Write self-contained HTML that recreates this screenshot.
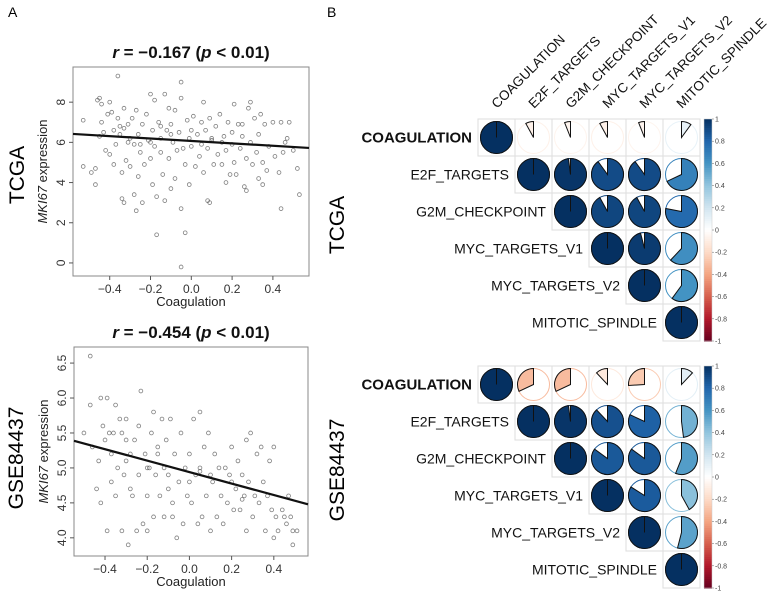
<!DOCTYPE html>
<html><head><meta charset="utf-8">
<style>
html,body{margin:0;padding:0;background:#fff;}
svg{display:block;font-family:"Liberation Sans",sans-serif;}
</style></head>
<body>
<svg id="fig" width="770" height="594" viewBox="0 0 770 594">
<text x="8" y="17" font-size="14">A</text>
<text x="327" y="17" font-size="14">B</text>
<text transform="translate(24,175) rotate(-90)" text-anchor="middle" font-size="21">TCGA</text>
<text transform="translate(23,458) rotate(-90)" text-anchor="middle" font-size="21">GSE84437</text>
<text transform="translate(344,225) rotate(-90)" text-anchor="middle" font-size="21">TCGA</text>
<text transform="translate(344,470) rotate(-90)" text-anchor="middle" font-size="21">GSE84437</text>
<g id="root"></g>
</svg>
<script>
const tcgaX=[-0.53,-0.53,-0.49,-0.47,-0.47,-0.46,-0.45,-0.45,-0.44,-0.44,-0.43,-0.42,-0.41,-0.40,-0.40,-0.39,-0.38,-0.38,-0.37,-0.36,-0.36,-0.35,-0.34,-0.34,-0.33,-0.33,-0.33,-0.32,-0.31,-0.31,-0.30,-0.29,-0.28,-0.28,-0.27,-0.27,-0.26,-0.26,-0.25,-0.24,-0.24,-0.23,-0.22,-0.21,-0.20,-0.20,-0.19,-0.19,-0.18,-0.18,-0.17,-0.17,-0.16,-0.15,-0.15,-0.14,-0.13,-0.13,-0.12,-0.11,-0.11,-0.10,-0.10,-0.09,-0.08,-0.08,-0.07,-0.06,-0.05,-0.05,-0.05,-0.05,-0.04,-0.03,-0.03,-0.02,-0.01,-0.01,0.00,0.01,0.02,0.03,0.04,0.05,0.06,0.06,0.07,0.08,0.08,0.09,0.09,0.10,0.11,0.12,0.13,0.14,0.15,0.16,0.17,0.17,0.18,0.19,0.20,0.21,0.21,0.22,0.23,0.24,0.25,0.26,0.27,0.27,0.28,0.29,0.29,0.30,0.31,0.32,0.33,0.33,0.34,0.35,0.35,0.36,0.37,0.38,0.40,0.41,0.43,0.44,0.44,0.45,0.46,0.47,0.48,0.50,0.52,0.53,-0.30,-0.20,-0.10,0.00,0.10,0.20,-0.15,0.05,0.15,-0.25,0.25,-0.35];
const tcgaY=[7.1,4.8,4.5,3.9,4.7,8.1,8.2,6.3,7.0,7.9,6.5,5.6,7.4,8.0,5.4,7.5,4.9,6.6,5.9,9.3,7.2,6.8,4.5,3.2,3.0,6.7,7.7,5.1,6.0,6.9,4.8,7.2,3.4,5.9,2.6,7.6,4.3,6.4,5.5,3.0,6.9,4.9,7.4,6.1,8.4,5.2,3.9,6.6,8.1,5.8,3.3,1.4,7.0,5.5,6.2,4.4,8.4,3.1,6.6,7.7,5.2,6.9,3.7,6.0,4.2,7.6,5.6,6.5,9.0,8.2,2.7,-0.2,5.7,4.9,1.5,7.1,6.2,3.9,5.8,7.3,4.8,6.4,5.3,7.0,8.0,4.5,6.6,3.1,5.7,3.0,7.2,6.1,4.9,6.8,5.4,7.4,4.9,6.3,4.0,5.6,7.0,4.4,6.5,7.9,5.0,4.4,6.9,5.7,6.3,3.8,3.6,5.2,7.7,8.0,6.0,4.9,7.2,5.5,4.2,6.4,7.4,3.9,5.0,6.9,4.6,5.8,7.0,5.3,4.5,2.7,7.0,5.5,6.0,6.2,7.0,5.6,4.7,3.4,6.2,6.0,6.4,6.6,6.2,5.9,6.8,5.9,6.0,5.9,6.9,6.4];
const tcgaFit=[6.07,-0.6];
const gseX=[-0.50,-0.47,-0.47,-0.46,-0.44,-0.43,-0.42,-0.42,-0.41,-0.40,-0.39,-0.39,-0.38,-0.37,-0.37,-0.36,-0.35,-0.35,-0.34,-0.33,-0.32,-0.32,-0.31,-0.30,-0.30,-0.29,-0.28,-0.28,-0.27,-0.26,-0.25,-0.24,-0.24,-0.23,-0.22,-0.21,-0.20,-0.20,-0.19,-0.18,-0.17,-0.17,-0.16,-0.15,-0.14,-0.13,-0.12,-0.12,-0.11,-0.10,-0.09,-0.08,-0.08,-0.07,-0.06,-0.05,-0.04,-0.03,-0.02,-0.01,0.00,0.01,0.02,0.03,0.04,0.05,0.05,0.06,0.07,0.08,0.09,0.10,0.11,0.12,0.13,0.14,0.15,0.16,0.17,0.18,0.19,0.20,0.21,0.22,0.23,0.24,0.25,0.26,0.27,0.27,0.28,0.29,0.30,0.31,0.32,0.33,0.34,0.35,0.36,0.37,0.38,0.39,0.40,0.40,0.41,0.42,0.44,0.45,0.46,0.47,0.48,0.49,0.49,0.51,-0.30,-0.20,-0.10,0.00,0.10,0.20,-0.15,0.05,0.25];
const gseY=[5.5,6.6,5.9,5.3,4.7,5.1,6.0,4.5,5.6,5.4,6.0,4.1,5.5,4.8,5.2,5.5,4.6,5.9,5.0,5.7,4.1,5.5,4.9,5.4,5.7,3.9,4.7,5.2,4.6,5.4,4.1,4.9,5.6,6.1,4.2,5.2,4.6,4.1,5.0,5.5,4.3,5.8,4.9,5.3,4.6,5.7,4.3,5.0,5.4,4.7,5.7,4.5,4.3,5.2,4.0,4.8,5.5,4.2,5.0,4.6,5.2,4.5,5.7,4.9,4.2,5.0,5.8,4.3,5.3,4.6,5.5,4.1,4.8,5.2,4.3,5.0,4.6,4.2,5.0,4.5,4.9,5.3,4.4,4.7,5.1,4.4,4.9,4.6,5.4,4.1,4.8,5.5,4.3,4.6,5.2,4.5,5.3,4.8,4.1,4.6,5.1,4.4,4.0,5.3,4.3,4.1,4.4,4.3,4.2,4.6,4.3,3.9,4.1,4.1,5.1,5.0,4.9,4.8,4.9,4.8,5.2,4.95,4.55];
const gseFit=[4.94,-0.82];
const xTicks=[-0.4,-0.2,0.0,0.2,0.4];
const tcgaYTicks=[0,2,4,6,8];
const gseYTicks=[4.0,4.5,5.0,5.5,6.0,6.5];
const geneNames=["COAGULATION","E2F_TARGETS","G2M_CHECKPOINT","MYC_TARGETS_V1","MYC_TARGETS_V2","MITOTIC_SPINDLE"];
const tcgaCorr=[[1,-0.08,-0.06,-0.08,-0.06,0.1],[1,0.98,0.9,0.9,0.68],[1,0.92,0.92,0.78],[1,0.96,0.62],[1,0.6],[1]];
const gseCorr=[[1,-0.32,-0.32,-0.12,-0.26,0.12],[1,0.98,0.88,0.82,0.48],[1,0.85,0.85,0.56],[1,0.84,0.42],[1,0.54],[1]];
const barTicks=[1,0.8,0.6,0.4,0.2,0,-0.2,-0.4,-0.6,-0.8,-1];

const NS="http://www.w3.org/2000/svg";
const root=document.getElementById('root');
function mk(tag,attrs,parent,text){const e=document.createElementNS(NS,tag);for(const k in attrs)e.setAttribute(k,attrs[k]);if(text!==undefined)e.textContent=text;(parent||root).appendChild(e);return e;}

function scatter(cfg){
  const g=mk('g',{});
  
  
  const {x0,x1,y0,y1,dx0,dx1,dy0,dy1}=cfg;
  const sx=v=>x0+(v-dx0)/(dx1-dx0)*(x1-x0);
  const sy=v=>y1-(v-dy0)/(dy1-dy0)*(y1-y0);
  const box=mk('rect',{x:x0,y:y0,width:x1-x0,height:y1-y0,fill:'none',stroke:'#888','stroke-width':1},g);
  
  
  cfg.xs.forEach((xv,i)=>{
    const c=mk('circle',{cx:sx(xv),cy:sy(cfg.ys[i]),r:1.9,fill:'none',stroke:'#555','stroke-opacity':0.75,'stroke-width':0.8},g);
    
    
  });
  const ln=mk('line',{x1:x0,y1:sy(cfg.fit[0]+cfg.fit[1]*dx0),x2:x1,y2:sy(cfg.fit[0]+cfg.fit[1]*dx1),stroke:'#111','stroke-width':2.2},g);
  
  
  xTicks.forEach(t=>{
    mk('line',{x1:sx(t),x2:sx(t),y1:y1,y2:y1+4,stroke:'#555'},g);
    const tl=mk('text',{x:sx(t),y:y1+17,'text-anchor':'middle','font-size':12,fill:'#333'},g,t.toFixed(1).replace('-','\u2212'));
    
    
  });
  cfg.yt.forEach(t=>{
    mk('line',{x1:x0,x2:x0-4,y1:sy(t),y2:sy(t),stroke:'#555'},g);
    const tl=mk('text',{transform:`translate(${x0-8},${sy(t)}) rotate(-90)`,'text-anchor':'middle','font-size':12,fill:'#333'},g,cfg.ytFmt(t));
    
    
  });
  const xt=mk('text',{x:(x0+x1)/2,y:y1+30,'text-anchor':'middle','font-size':13,fill:'#222'},g,'Coagulation');
  
  
  const yt=mk('text',{transform:`translate(${x0-26},${(y0+y1)/2}) rotate(-90)`,'text-anchor':'middle','font-size':13,fill:'#222'},g);
  
  
  mk('tspan',{'font-style':'italic'},yt,'MKI67');
  mk('tspan',{},yt,' expression');
  const tt=mk('text',{x:(x0+x1)/2,y:y0-9,'text-anchor':'middle','font-size':17,'font-weight':'bold',fill:'#111'},g);
  
  
  mk('tspan',{'font-style':'italic'},tt,'r');
  mk('tspan',{},tt,' = \u2212'+cfg.r+' (');
  mk('tspan',{'font-style':'italic'},tt,'p');
  mk('tspan',{},tt,' < 0.01)');
}
scatter({name:'tcga-scatter',x0:73,x1:309,y0:67,y1:276,dx0:-0.58,dx1:0.577,dy0:-0.65,dy1:9.75,xs:tcgaX,ys:tcgaY,fit:tcgaFit,yt:tcgaYTicks,ytFmt:t=>String(t),r:'0.167'});
scatter({name:'gse-scatter',x0:74,x1:308,y0:347,y1:556,dx0:-0.547,dx1:0.562,dy0:3.74,dy1:6.73,xs:gseX,ys:gseY,fit:gseFit,yt:gseYTicks,ytFmt:t=>t.toFixed(1),r:'0.454'});

const stops=['#67001F','#B2182B','#D6604D','#F4A582','#FDDBC7','#FFFFFF','#D1E5F0','#92C5DE','#4393C3','#2166AC','#053061'];
function hex(h){return [1,3,5].map(i=>parseInt(h.substr(i,2),16));}
function col(v){const p=(v+1)/2*10;const i=Math.min(9,Math.floor(p));const f=p-i;const a=hex(stops[i]),b=hex(stops[i+1]);return 'rgb('+a.map((c,k)=>Math.round(c+(b[k]-c)*f)).join(',')+')';}

function corrplot(cfg){
  const g=mk('g',{});
  
  
  const L=cfg.left,T=cfg.top,C=37,R=16;
  cfg.m.forEach((row,i)=>{
    row.forEach((v,k)=>{
      const j=i+k;const x=L+j*C,y=T+i*C,cx=x+C/2,cy=y+C/2;
      mk('rect',{x:x,y:y,width:C,height:C,fill:'#fff',stroke:'#ddd','stroke-width':1},g);
      const c=col(v);
      mk('circle',{cx:cx,cy:cy,r:R,fill:'none',stroke:c,'stroke-width':1},g);
      const a=Math.abs(v);let shape;
      if(a>=0.999){shape=mk('circle',{cx:cx,cy:cy,r:R,fill:c,stroke:'#111','stroke-width':1},g);mk('line',{x1:cx,y1:cy,x2:cx,y2:cy-R,stroke:'#111','stroke-width':1},g);}
      else{const ang=a*2*Math.PI*(v>=0?1:-1);const ex=cx+R*Math.sin(ang),ey=cy-R*Math.cos(ang);
        const large=a>0.5?1:0,sweep=v>=0?1:0;
        shape=mk('path',{d:`M${cx},${cy} L${cx},${cy-R} A${R},${R} 0 ${large} ${sweep} ${ex},${ey} Z`,fill:c,stroke:'#111','stroke-width':1},g);}
      
      
    });
    const rl=mk('text',{x:L+i*C-6,y:T+i*C+C/2+5,'text-anchor':'end','font-size':i===0?15:14,'font-weight':i===0?'bold':'normal',fill:'#111'},g,geneNames[i]);
    
    
  });
  if(cfg.colLabels){geneNames.forEach((n,j)=>{
    const cl=mk('text',{transform:`translate(${L+j*C+19},${T-10}) rotate(-45)`,'font-size':13.5,fill:'#111'},g,n);
    
    
  });}
  const bx=L+6*C+4,bh=6*C;
  for(let k=0;k<100;k++){const v=1-(k+0.5)/50;mk('rect',{x:bx,y:T+k*bh/100,width:8,height:bh/100+0.6,fill:col(v)},g);}
  const fr=mk('rect',{x:bx,y:T,width:8,height:bh,fill:'none',stroke:'#ccc','stroke-width':0.5},g);
  
  
  barTicks.forEach(t=>{const y=T+(1-t)/2*bh;
    mk('line',{x1:bx+8,x2:bx+10,y1:y,y2:y,stroke:'#666','stroke-width':0.5},g);
    const tl=mk('text',{x:bx+11,y:y+2.5,'font-size':7,fill:'#444'},g,String(t));
    
    });
}
corrplot({name:'tcga-corrplot',left:478,top:119,m:tcgaCorr,colLabels:true});
corrplot({name:'gse-corrplot',left:478,top:366,m:gseCorr,colLabels:false});
</script>
</body></html>
